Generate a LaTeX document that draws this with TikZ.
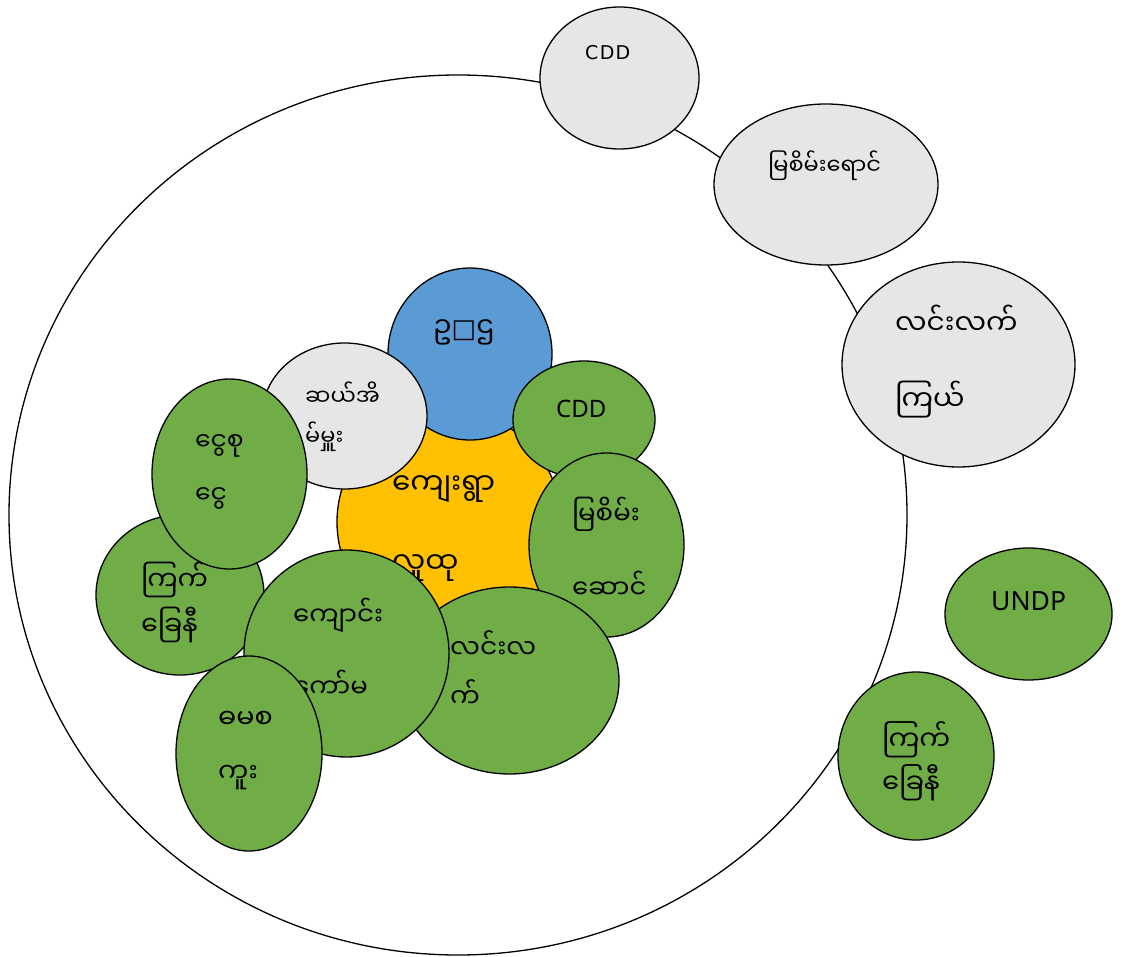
\documentclass[tikz,border=0pt]{standalone}
\usepackage{fontspec}
\usetikzlibrary{shapes.geometric}
\newfontfamily\my[Script=Myanmar]{Noto Sans Myanmar UI}
\newfontfamily\djv{DejaVu Sans}
\newfontfamily\djvs[LetterSpace=7]{DejaVu Sans}
\newfontfamily\lat{Noto Sans}
\definecolor{cblue}{HTML}{5B9BD5}
\definecolor{cyel}{HTML}{FFC000}
\definecolor{cgrn}{HTML}{70AD47}
\definecolor{cgry}{HTML}{E6E6E6}
\tikzset{
  bub/.style={ellipse, draw=black, line width=1.3pt, inner sep=0pt},
  lbl/.style={inner sep=0pt, anchor=base west, text=black},
}
\newcommand{\fs}[1]{\fontsize{#1}{#1}\selectfont}
\begin{document}
\begin{tikzpicture}[x=1pt,y=-1pt]
\useasboundingbox[fill=white] (0,0) rectangle (1124,957);
% big circle
\node[bub, fill=white, minimum width=898pt, minimum height=880pt] (big) at (458,515) {};
% outer bubbles
\node[bub, fill=cgry, minimum width=159pt, minimum height=142pt] (ocdd) at (619.5,78) {};
\node[lbl, font=\djvs\fs{19}] (tocdd) at (585,60) {CDD};
\node[bub, fill=cgry, minimum width=224pt, minimum height=161pt] (omya) at (826,184.5) {};
\node[lbl, font=\my\fs{22.5}] (tomya) at (768,175) {မြစိမ်းရောင်};
\node[bub, fill=cgry, minimum width=233pt, minimum height=205pt] (olin) at (958.5,364.5) {};
\node[lbl, font=\my\fs{28}] (tolin1) at (895,335) {လင်းလက်};
\node[lbl, font=\my\fs{28}] (tolin2) at (895,410) {ကြယ်};
\node[bub, fill=cgrn, minimum width=167pt, minimum height=132pt] (undp) at (1028.5,614) {};
\node[lbl, font=\lat\fs{26.5}] (tundp) at (991,610) {UNDP};
\node[bub, fill=cgrn, minimum width=156pt, minimum height=168pt] (okk) at (916,756) {};
\node[lbl, font=\my\fs{27.5}] (tokk1) at (882,750) {ကြက်};
\node[lbl, font=\my\fs{27.5}] (tokk2) at (882,793) {ခြေနီ};
% inner cluster
\node[bub, fill=cyel, minimum width=224pt, minimum height=224pt] (vil) at (449,522) {};
\node[lbl, font=\my\fs{29.5}] (tvil1) at (392,494) {ကျေးရွာ};
\node[lbl, font=\my\fs{29.5}] (tvil2) at (392,573) {လူထု};
\node[bub, fill=cblue, minimum width=164pt, minimum height=172pt] (chair) at (470,354) {};
\node[lbl, font=\my\fs{28}] (tch) at (433,338) {ဥ{\djv\fs{26}□}ဌ};
\node[bub, fill=cgry, minimum width=165pt, minimum height=146pt] (ten) at (344.5,416) {};
\node[lbl, font=\my\fs{22.5}] (tten1) at (305,405) {ဆယ်အိ};
\node[lbl, font=\my\fs{22.5}] (tten2) at (305,445) {မ်မှူး};
\node[bub, fill=cgrn, minimum width=142pt, minimum height=117pt] (icdd) at (584,419.5) {};
\node[lbl, font=\lat\fs{24}] (ticdd) at (556,417) {CDD};
\node[bub, fill=cgrn, minimum width=155pt, minimum height=184pt] (imya) at (606.5,545) {};
\node[lbl, font=\my\fs{26}] (timya1) at (572,524) {မြစိမ်း};
\node[lbl, font=\my\fs{26}] (timya2) at (572,598) {ဆောင်};
\node[bub, fill=cgrn, minimum width=219pt, minimum height=187pt] (ilin) at (509.5,680.5) {};
\node[lbl, font=\my\fs{26.5}] (tilin1) at (450,658) {လင်းလ};
\node[lbl, font=\my\fs{26.5}] (tilin2) at (450,707) {က်};
\node[bub, fill=cgrn, minimum width=168pt, minimum height=160pt] (ikk) at (180,595) {};
\node[lbl, font=\my\fs{27}] (tikk1) at (141,590) {ကြက်};
\node[lbl, font=\my\fs{27}] (tikk2) at (141,635) {ခြေနီ};
\node[bub, fill=cgrn, minimum width=155pt, minimum height=190pt] (sav) at (229.5,474) {};
\node[lbl, font=\my\fs{25}] (tsav1) at (195,450) {ငွေစု};
\node[lbl, font=\my\fs{25}] (tsav2) at (195,503) {ငွေ};
\node[bub, fill=cgrn, minimum width=205pt, minimum height=207pt] (sch) at (346.5,653.5) {};
\node[lbl, font=\my\fs{26}] (tsch1) at (293,625) {ကျောင်း};
\node[lbl, font=\my\fs{26}] (tsch2) at (293,697) {ကော်မ};
\node[bub, fill=cgrn, minimum width=146pt, minimum height=195pt] (mcw) at (249,753.5) {};
\node[lbl, font=\my\fs{27}] (tmcw1) at (218,728) {ဓမစ};
\node[lbl, font=\my\fs{27}] (tmcw2) at (218,782) {ကူး};
\end{tikzpicture}
\end{document}
